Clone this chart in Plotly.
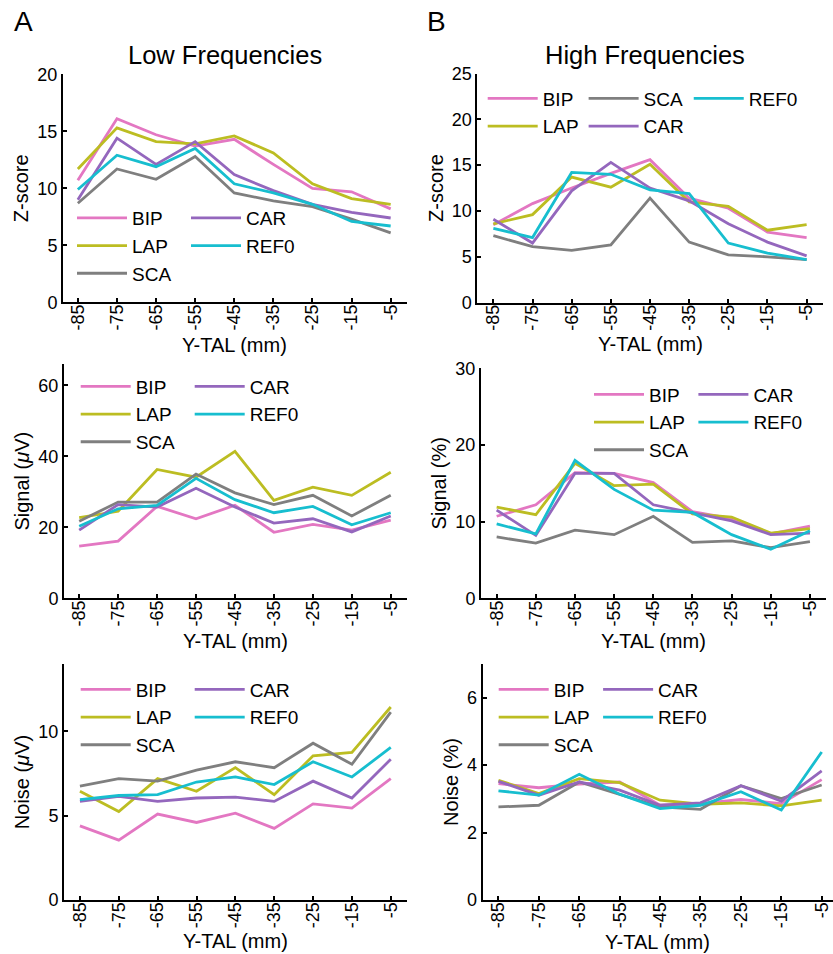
import plotly.graph_objects as go

# ---------------- data ----------------
y_tal = [-85, -75, -65, -55, -45, -35, -25, -15, -5]
tick_labels = ["-85", "-75", "-65", "-55", "-45", "-35", "-25", "-15", "-5"]
series_names = ["BIP", "LAP", "SCA", "CAR", "REF0"]
series_colors = ["#e377c2", "#bcbd22", "#7f7f7f", "#9467bd", "#17becf"]
x_title = "Y-TAL (mm)"

# Low frequencies - Z-score
low_z_bip = [10.7, 16.1, 14.7, 13.7, 14.3, 12.1, 10.0, 9.7, 8.2]
low_z_lap = [11.7, 15.3, 14.1, 13.9, 14.6, 13.1, 10.4, 9.1, 8.6]
low_z_sca = [8.7, 11.7, 10.8, 12.8, 9.6, 8.9, 8.4, 7.3, 6.1]
low_z_car = [9.0, 14.4, 12.1, 14.1, 11.2, 9.8, 8.6, 7.9, 7.4]
low_z_ref0 = [9.9, 12.9, 11.9, 13.5, 10.4, 9.6, 8.6, 7.1, 6.7]

# High frequencies - Z-score
high_z_bip = [8.5, 10.8, 12.5, 14.1, 15.6, 11.4, 10.3, 7.7, 7.1]
high_z_lap = [8.6, 9.6, 13.7, 12.6, 15.1, 11.0, 10.5, 7.9, 8.5]
high_z_sca = [7.3, 6.1, 5.7, 6.3, 11.4, 6.6, 5.2, 5.0, 4.7]
high_z_car = [9.1, 6.5, 12.2, 15.3, 12.5, 11.1, 8.6, 6.6, 5.1]
high_z_ref0 = [8.1, 7.1, 14.2, 14.0, 12.3, 11.9, 6.5, 5.4, 4.7]

# Low frequencies - Signal (uV)
low_sig_bip = [14.7, 16.1, 25.9, 22.4, 26.2, 18.6, 20.8, 19.2, 22.0]
low_sig_lap = [22.7, 24.5, 36.3, 34.1, 41.4, 27.6, 31.3, 29.0, 35.5]
low_sig_sca = [21.7, 27.1, 27.1, 35.0, 29.7, 26.4, 29.0, 23.2, 29.0]
low_sig_car = [19.2, 26.4, 25.7, 31.0, 25.7, 21.2, 22.4, 18.7, 23.2]
low_sig_ref0 = [20.3, 25.2, 26.2, 33.8, 27.8, 24.1, 25.9, 20.7, 24.1]

# High frequencies - Signal (%)
high_sig_bip = [10.7, 12.2, 16.4, 16.3, 15.1, 11.3, 10.4, 8.4, 9.4]
high_sig_lap = [11.9, 10.9, 17.6, 14.7, 14.9, 11.0, 10.6, 8.5, 9.1]
high_sig_sca = [8.0, 7.2, 8.9, 8.3, 10.7, 7.3, 7.5, 6.6, 7.4]
high_sig_car = [11.5, 8.2, 16.3, 16.3, 12.2, 11.1, 10.1, 8.3, 8.5]
high_sig_ref0 = [9.7, 8.4, 18.0, 14.2, 11.5, 11.2, 8.3, 6.4, 8.8]

# Low frequencies - Noise (uV)
low_noise_bip = [4.4, 3.55, 5.1, 4.6, 5.15, 4.25, 5.7, 5.45, 7.2]
low_noise_lap = [6.45, 5.25, 7.2, 6.45, 7.85, 6.25, 8.55, 8.75, 11.45]
low_noise_sca = [6.75, 7.2, 7.05, 7.7, 8.2, 7.85, 9.3, 8.05, 11.15]
low_noise_car = [5.85, 6.15, 5.85, 6.05, 6.1, 5.85, 7.05, 6.05, 8.35]
low_noise_ref0 = [5.95, 6.2, 6.25, 7.0, 7.3, 6.85, 8.2, 7.3, 9.05]

# High frequencies - Noise (%)
high_noise_bip = [3.45, 3.33, 3.44, 3.5, 2.81, 2.86, 2.98, 2.86, 3.57]
high_noise_lap = [3.55, 3.16, 3.6, 3.48, 2.96, 2.84, 2.88, 2.79, 2.96]
high_noise_sca = [2.76, 2.81, 3.5, 3.14, 2.76, 2.69, 3.39, 3.01, 3.41]
high_noise_car = [3.52, 3.11, 3.5, 3.26, 2.81, 2.88, 3.39, 2.93, 3.83]
high_noise_ref0 = [3.24, 3.11, 3.73, 3.14, 2.71, 2.81, 3.21, 2.67, 4.39]

panels = [
    # (values, y title, y range, y dtick, legend columns)
    ([low_z_bip, low_z_lap, low_z_sca, low_z_car, low_z_ref0], "Z-score", [0, 20], 5, [0, 0, 0, 1, 1]),
    ([high_z_bip, high_z_lap, high_z_sca, high_z_car, high_z_ref0], "Z-score", [0, 25], 5, [0, 0, 1, 1, 2]),
    ([low_sig_bip, low_sig_lap, low_sig_sca, low_sig_car, low_sig_ref0], "Signal (<i>\u03bc</i>V)", [0, 66], 20, [0, 0, 0, 1, 1]),
    ([high_sig_bip, high_sig_lap, high_sig_sca, high_sig_car, high_sig_ref0], "Signal (%)", [0, 30], 10, [0, 0, 0, 1, 1]),
    ([low_noise_bip, low_noise_lap, low_noise_sca, low_noise_car, low_noise_ref0], "Noise (<i>\u03bc</i>V)", [0, 14], 5, [0, 0, 0, 1, 1]),
    ([high_noise_bip, high_noise_lap, high_noise_sca, high_noise_car, high_noise_ref0], "Noise (%)", [0, 7], 2, [0, 0, 0, 1, 1]),
]

# ---------------- layout geometry (pixels) ----------------
W, H = 833, 954
# left, right, top, bottom of each plot area
boxes = [
    (63, 406.7, 74.3, 302.4),
    (477.3, 822.7, 73.5, 302.6),
    (64, 406.7, 364, 598.3),
    (481, 826, 368.3, 598.3),
    (64, 406.7, 664, 900),
    (482.7, 833, 664, 900),
]
x_ranges = [[-88.8, -0.9], [-89.1, -0.9], [-88.9, -0.9], [-89.0, -0.9], [-89.1, -0.9], [-88.9, -2.2]]
x_title_y = [345, 344, 641, 641, 941, 942]
# legend: first line-sample start x, first row centre y, entry width (0 = natural)
legend_pos = [(77, 218.5, 49), (487.7, 99, 0), (80.7, 387, 49), (594, 395, 0), (80.7, 690, 49), (498.7, 690, 0)]

FONT = "Liberation Sans, Arial, sans-serif"
fig = go.Figure()
layout = dict(
    width=W, height=H,
    margin=dict(l=0, r=0, t=0, b=0),
    paper_bgcolor="white", plot_bgcolor="white",
    font=dict(family=FONT, color="black", size=18),
)
annotations = []

for i, (vals, ytitle, yr, dt, cols) in enumerate(panels):
    k = "" if i == 0 else str(i + 1)
    l, r, t, b = boxes[i]
    leg = "legend" if i == 0 else f"legend{i+1}"
    for j, name in enumerate(series_names):
        fig.add_trace(go.Scatter(
            x=y_tal, y=vals[j], mode="lines", name=name,
            line=dict(color=series_colors[j], width=2.8),
            xaxis="x" + k, yaxis="y" + k, legend=leg,
            legendgroup=f"p{i}c{cols[j]}",
        ))
    axcommon = dict(showgrid=False, zeroline=False, showline=True, linecolor="black", linewidth=2,
                    ticks="inside", ticklen=4, tickwidth=1.5, tickcolor="black", automargin=False,
                    tickfont=dict(size=18, family=FONT))
    layout["xaxis" + k] = dict(
        domain=[l / W, r / W], anchor="y" + k, range=x_ranges[i],
        tickmode="array", tickvals=y_tal, ticktext=tick_labels, tickangle=-90,
        ticklabelstandoff=-7,
        **axcommon)
    layout["yaxis" + k] = dict(
        domain=[1 - b / H, 1 - t / H], anchor="x" + k, range=yr, dtick=dt,
        title=dict(text=ytitle, font=dict(size=20), standoff=3),
        **axcommon)
    annotations.append(dict(
        text=x_title, xref=f"x{k} domain", x=0.5, yref="paper", y=1 - x_title_y[i] / H,
        xanchor="center", yanchor="middle", showarrow=False, font=dict(size=20, family=FONT)))
    lx, ly, ew = legend_pos[i]
    layout[leg] = dict(
        x=(lx - 5) / W, y=1 - (ly - 19.5) / H, xanchor="left", yanchor="top",
        orientation="h", traceorder="grouped", entrywidth=ew, entrywidthmode="pixels",
        itemwidth=50, bgcolor="rgba(0,0,0,0)", font=dict(size=19, family=FONT),
    )

annotations += [
    dict(text="A", x=12 / W, y=1 - 22 / H, xref="paper", yref="paper", showarrow=False,
         xanchor="left", yanchor="middle", font=dict(size=28, family=FONT)),
    dict(text="B", x=425 / W, y=1 - 22 / H, xref="paper", yref="paper", showarrow=False,
         xanchor="left", yanchor="middle", font=dict(size=28, family=FONT)),
    dict(text="Low Frequencies", x=225 / W, y=1 - 55 / H, xref="paper", yref="paper", showarrow=False,
         xanchor="center", yanchor="middle", font=dict(size=25.5, family=FONT)),
    dict(text="High Frequencies", x=644.5 / W, y=1 - 55 / H, xref="paper", yref="paper", showarrow=False,
         xanchor="center", yanchor="middle", font=dict(size=25.5, family=FONT)),
]
layout["annotations"] = annotations
fig.update_layout(**layout)
fig.write_html("out.html", config={"displayModeBar": False},
               post_script="document.body.style.margin='0px';")
